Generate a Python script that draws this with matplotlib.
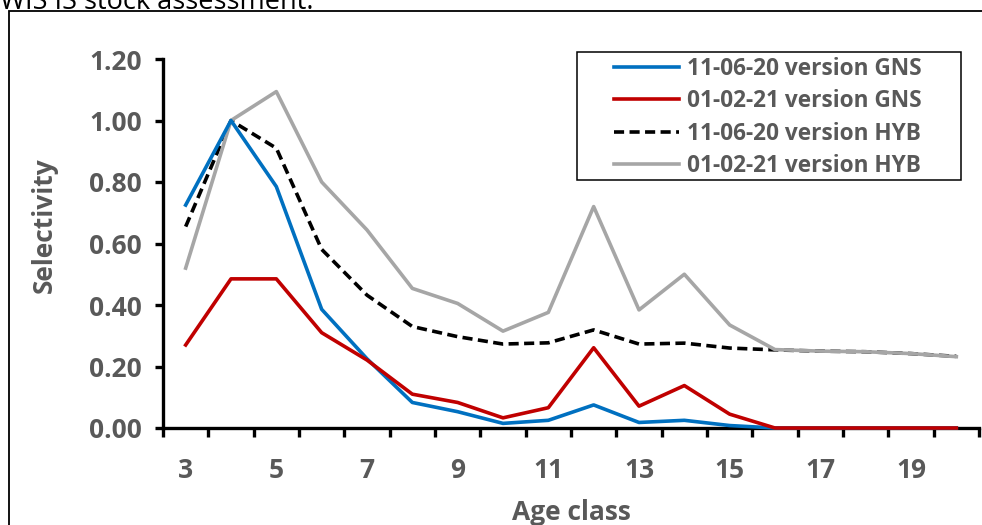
import numpy as np
import matplotlib.pyplot as plt
from matplotlib.patches import Rectangle

ages = list(range(3, 21))
gns_110620 = [0.725, 1.00, 0.785, 0.386, 0.225, 0.083, 0.053, 0.015, 0.025, 0.075, 0.018, 0.025, 0.008, 0, 0, 0, 0, 0]
gns_010221 = [0.27, 0.485, 0.485, 0.31, 0.221, 0.11, 0.083, 0.033, 0.066, 0.261, 0.071, 0.138, 0.045, 0, 0, 0, 0, 0]
hyb_110620 = [0.655, 1.00, 0.91, 0.581, 0.432, 0.33, 0.297, 0.273, 0.277, 0.319, 0.273, 0.276, 0.26, 0.254, 0.25, 0.248, 0.242, 0.233]
hyb_010221 = [0.52, 1.00, 1.094, 0.80, 0.644, 0.454, 0.405, 0.315, 0.376, 0.72, 0.384, 0.50, 0.335, 0.255, 0.25, 0.248, 0.242, 0.232]
labels = ['11-06-20 version GNS', '01-02-21 version GNS',
          '11-06-20 version HYB', '01-02-21 version HYB']
yticks = [0.0, 0.2, 0.4, 0.6, 0.8, 1.0, 1.2]
xlabels = [3, 5, 7, 9, 11, 13, 15, 17, 19]

W, H = 982, 525
grey_txt = '#595959'
plt.rcParams['font.family'] = ['Open Sans', 'DejaVu Sans']

fig = plt.figure(figsize=(W / 100, H / 100), dpi=100)
ax = fig.add_axes([163 / W, 1 - 428 / H, (979 - 163) / W, (428 - 59) / H])

lw = 2.6
ax.plot(ages, gns_110620, color='#0070C0', lw=lw, label=labels[0], clip_on=False, zorder=5)
ax.plot(ages, gns_010221, color='#C00000', lw=lw, label=labels[1], clip_on=False, zorder=6)
ax.plot(ages, hyb_110620, color='black', lw=lw, dashes=(2.8, 1.5), label=labels[2], clip_on=False, zorder=3)
ax.plot(ages, hyb_010221, color='#A6A6A6', lw=lw, label=labels[3], clip_on=False, zorder=4)

ax.set_xlim(2.5, 20.5)
ax.set_ylim(0, 1.2)

# category axis: ticks between categories, labels on every other category
ax.set_xticks(np.arange(2.5, 21, 1))
ax.set_xticklabels([])
ax.set_xticks(xlabels, minor=True)
ax.set_xticklabels([str(v) for v in xlabels], minor=True)
ax.tick_params(axis='x', which='major', direction='out', length=6.5, width=2.4, color='black')
ax.tick_params(axis='x', which='minor', length=0, pad=21, labelsize=19, labelcolor=grey_txt)

ax.set_yticks(yticks)
ax.set_yticklabels([f'{v:.2f}' for v in yticks])
ax.tick_params(axis='y', direction='out', length=6, width=2.4, pad=9, labelsize=19, labelcolor=grey_txt)

for lab in ax.get_xticklabels(minor=True) + ax.get_yticklabels():
    lab.set_fontweight('bold')

for s in ['top', 'right']:
    ax.spines[s].set_visible(False)
for s in ['left', 'bottom']:
    ax.spines[s].set_linewidth(2.4)
    ax.spines[s].set_zorder(2)

fig.text(44 / W, 1 - 225 / H, 'Selectivity', rotation=90, ha='center', va='center',
         fontsize=19, fontweight='bold', color=grey_txt)
fig.text(571 / W, 1 - 512 / H, 'Age class', ha='center', va='center',
         fontsize=19, fontweight='bold', color=grey_txt)

# legend with a hand-drawn frame
leg = fig.legend(loc='upper left', bbox_to_anchor=(609 / W, 1 - 52 / H), frameon=False,
                 fontsize=16.3, handlelength=2.9, handletextpad=0.35, labelspacing=0.38,
                 borderpad=0.2, borderaxespad=0)
for t in leg.get_texts():
    t.set_color(grey_txt)
    t.set_fontweight('bold')
fig.patches.append(Rectangle((577 / W, 1 - 180 / H), (961 - 577) / W, (180 - 52) / H,
                             transform=fig.transFigure, fill=False, edgecolor='black', lw=1.1))

# surrounding frame from the document and the cut caption above it
fig.patches.append(Rectangle((9 / W, -0.1), 1.1, 1.1 - 11 / H, transform=fig.transFigure,
                             fill=False, edgecolor='black', lw=1.3))
fig.text(0, 1 - 9 / H, 'WIS IS stock assessment.', ha='left', va='baseline', fontsize=19.5, color='black')

fig.savefig('out.png', dpi=100)
